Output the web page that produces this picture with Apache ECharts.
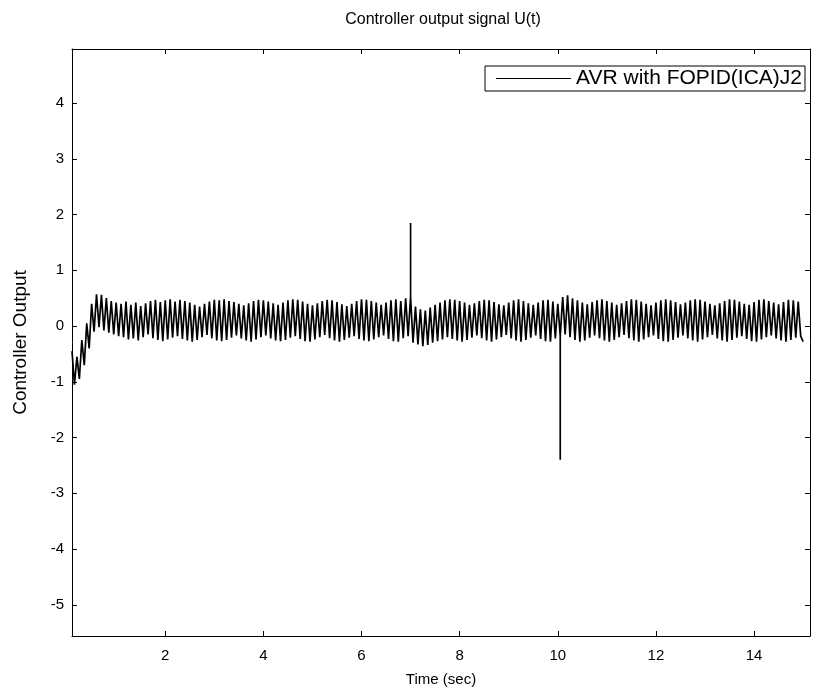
<!DOCTYPE html>
<html>
<head>
<meta charset="utf-8">
<script src="https://cdn.jsdelivr.net/npm/echarts@6/dist/echarts.min.js"></script>
<style>
html,body{margin:0;padding:0;background:#fff;}
#chart{width:819px;height:697px;}
</style>
</head>
<body>
<div id="chart"></div>
<script>
// Sampling grid of the controller output (seconds)
var tStart = 0.1;
var tStep = 0.05;
// Values at the upper turning points (t = 0.1, 0.2, ... 15.0)
var highs = [
 -0.45,-0.55,-0.25,0.05,0.4,0.57,0.56,0.5,0.45,0.42,
 0.4,0.44,0.38,0.42,0.36,0.41,0.45,0.47,0.43,0.46,
 0.48,0.44,0.47,0.45,0.42,0.38,0.35,0.4,0.44,0.47,
 0.46,0.48,0.45,0.43,0.4,0.37,0.41,0.45,0.47,0.46,
 0.44,0.41,0.38,0.42,0.46,0.48,0.47,0.44,0.4,0.37,
 0.41,0.45,0.47,0.46,0.43,0.39,0.36,0.4,0.45,0.48,
 0.47,0.45,0.42,0.38,0.42,0.46,0.48,0.45,0.5,0.52,
 0.35,0.3,0.28,0.33,0.38,0.42,0.46,0.48,0.47,0.45,
 0.42,0.38,0.41,0.45,0.47,0.46,0.43,0.39,0.37,0.42,
 0.46,0.48,0.45,0.41,0.38,0.42,0.46,0.47,0.44,0.4,
 0.52,0.55,0.5,0.46,0.42,0.39,0.43,0.46,0.48,0.45,
 0.42,0.38,0.41,0.45,0.48,0.47,0.44,0.4,0.37,0.42,
 0.46,0.48,0.46,0.43,0.39,0.42,0.46,0.48,0.47,0.44,
 0.4,0.37,0.41,0.45,0.48,0.47,0.44,0.4,0.38,0.43,
 0.47,0.48,0.45,0.42,0.39,0.43,0.47,0.46,0.44,-0.28
];
// Values at the lower turning points (t = 0.15, 0.25, ... 14.95)
var lows = [
 -1.05,-0.95,-0.7,-0.4,-0.1,-0.02,-0.08,-0.12,-0.15,-0.18,
 -0.2,-0.24,-0.22,-0.26,-0.2,-0.15,-0.22,-0.25,-0.27,-0.24,
 -0.21,-0.18,-0.23,-0.26,-0.28,-0.25,-0.2,-0.16,-0.22,-0.26,
 -0.27,-0.25,-0.21,-0.17,-0.22,-0.26,-0.28,-0.24,-0.2,-0.17,
 -0.22,-0.26,-0.27,-0.25,-0.21,-0.18,-0.23,-0.27,-0.28,-0.24,
 -0.2,-0.16,-0.22,-0.26,-0.28,-0.25,-0.21,-0.18,-0.23,-0.26,
 -0.27,-0.24,-0.2,-0.17,-0.23,-0.27,-0.28,-0.22,-0.18,-0.3,
 -0.33,-0.36,-0.34,-0.3,-0.27,-0.24,-0.2,-0.23,-0.26,-0.28,
 -0.25,-0.21,-0.17,-0.22,-0.26,-0.28,-0.24,-0.2,-0.16,-0.22,
 -0.26,-0.28,-0.25,-0.21,-0.17,-0.23,-0.27,-0.28,-0.22,-0.18,
 -0.15,-0.2,-0.25,-0.28,-0.26,-0.21,-0.17,-0.22,-0.26,-0.28,
 -0.25,-0.2,-0.16,-0.22,-0.26,-0.28,-0.24,-0.2,-0.17,-0.23,
 -0.27,-0.28,-0.25,-0.21,-0.17,-0.22,-0.26,-0.28,-0.24,-0.2,
 -0.16,-0.22,-0.26,-0.28,-0.25,-0.21,-0.18,-0.23,-0.27,-0.28,
 -0.24,-0.2,-0.17,-0.22,-0.26,-0.28,-0.25,-0.21,-0.18
];
// Short disturbance spikes (instant and extreme value)
var spikeTimes = [7.0, 10.05];
var spikePeaks = [1.85, -2.4];

var xTicks = [2,4,6,8,10,12,14];
var yTicks = [-5,-4,-3,-2,-1,0,1,2,3,4];
var seriesName = 'AVR with FOPID(ICA)J2';

var data = [];
var n = highs.length + lows.length;
for (var i = 0; i < n; i++) {
  var t = Math.round((tStart + tStep * i) * 1000) / 1000;
  var v = (i % 2 === 0) ? highs[i / 2] : lows[(i - 1) / 2];
  data.push([t, v]);
  for (var s = 0; s < spikeTimes.length; s++) {
    if (Math.abs(spikeTimes[s] - t) < 1e-6) {
      data.push([t, spikePeaks[s]]);
      data.push([t, v]);
    }
  }
}

var FONT = 'Liberation Sans, Arial, Helvetica, sans-serif';
var xMin = 0.1, xMax = 15.14, yMin = -5.56, yMax = 4.97;

function xAx(pos, labels) {
  return {
    type: 'value', position: pos, min: xMin, max: xMax,
    name: labels ? 'Time (sec)' : '', nameLocation: 'middle', nameGap: 36,
    nameTextStyle: {fontFamily: FONT, fontSize: 15, color: '#000'},
    axisLine: {show: true, onZero: false, lineStyle: {color: '#000', width: 1}},
    axisTick: {show: true, inside: true, length: 5, customValues: xTicks, lineStyle: {color: '#000'}},
    axisLabel: {show: labels, customValues: xTicks, margin: 12, fontFamily: FONT, fontSize: 15, color: '#000'},
    splitLine: {show: false}
  };
}
function yAx(pos, labels) {
  return {
    type: 'value', position: pos, min: yMin, max: yMax,
    name: labels ? 'Controller Output' : '', nameLocation: 'middle', nameGap: 42,
    nameTextStyle: {fontFamily: FONT, fontSize: 19, color: '#000'},
    axisLine: {show: true, onZero: false, lineStyle: {color: '#000', width: 1}},
    axisTick: {show: true, inside: true, length: 5, customValues: yTicks, lineStyle: {color: '#000'}},
    axisLabel: {show: labels, customValues: yTicks, margin: 8, fontFamily: FONT, fontSize: 15, color: '#000'},
    splitLine: {show: false}
  };
}

var chart = echarts.init(document.getElementById('chart'), null, {renderer: 'canvas'});
chart.setOption({
  animation: false,
  backgroundColor: '#fff',
  title: {
    text: 'Controller output signal U(t)', left: 438, top: 7, textAlign: 'center',
    textStyle: {fontFamily: FONT, fontSize: 16, fontWeight: 'normal', color: '#000'}
  },
  grid: {left: 72, right: 9, top: 49, bottom: 61, containLabel: false},
  legend: {
    right: 14, top: 66, orient: 'horizontal',
    backgroundColor: '#fff', borderColor: '#000', borderWidth: 1,
    padding: [2, 3, 2, 11], itemWidth: 75, itemHeight: 1, itemGap: 5,
    textStyle: {fontFamily: FONT, fontSize: 21, color: '#000'},
    data: [{name: seriesName, icon: 'rect', itemStyle: {color: '#000'}}]
  },
  xAxis: [xAx('bottom', true), xAx('top', false)],
  yAxis: [yAx('left', true), yAx('right', false)],
  series: [{
    name: seriesName, type: 'line', xAxisIndex: 0, yAxisIndex: 0,
    data: data, showSymbol: false, symbol: 'none',
    lineStyle: {color: '#000', width: 1.7}, itemStyle: {color: '#000'}
  }]
});
</script>
</body>
</html>
